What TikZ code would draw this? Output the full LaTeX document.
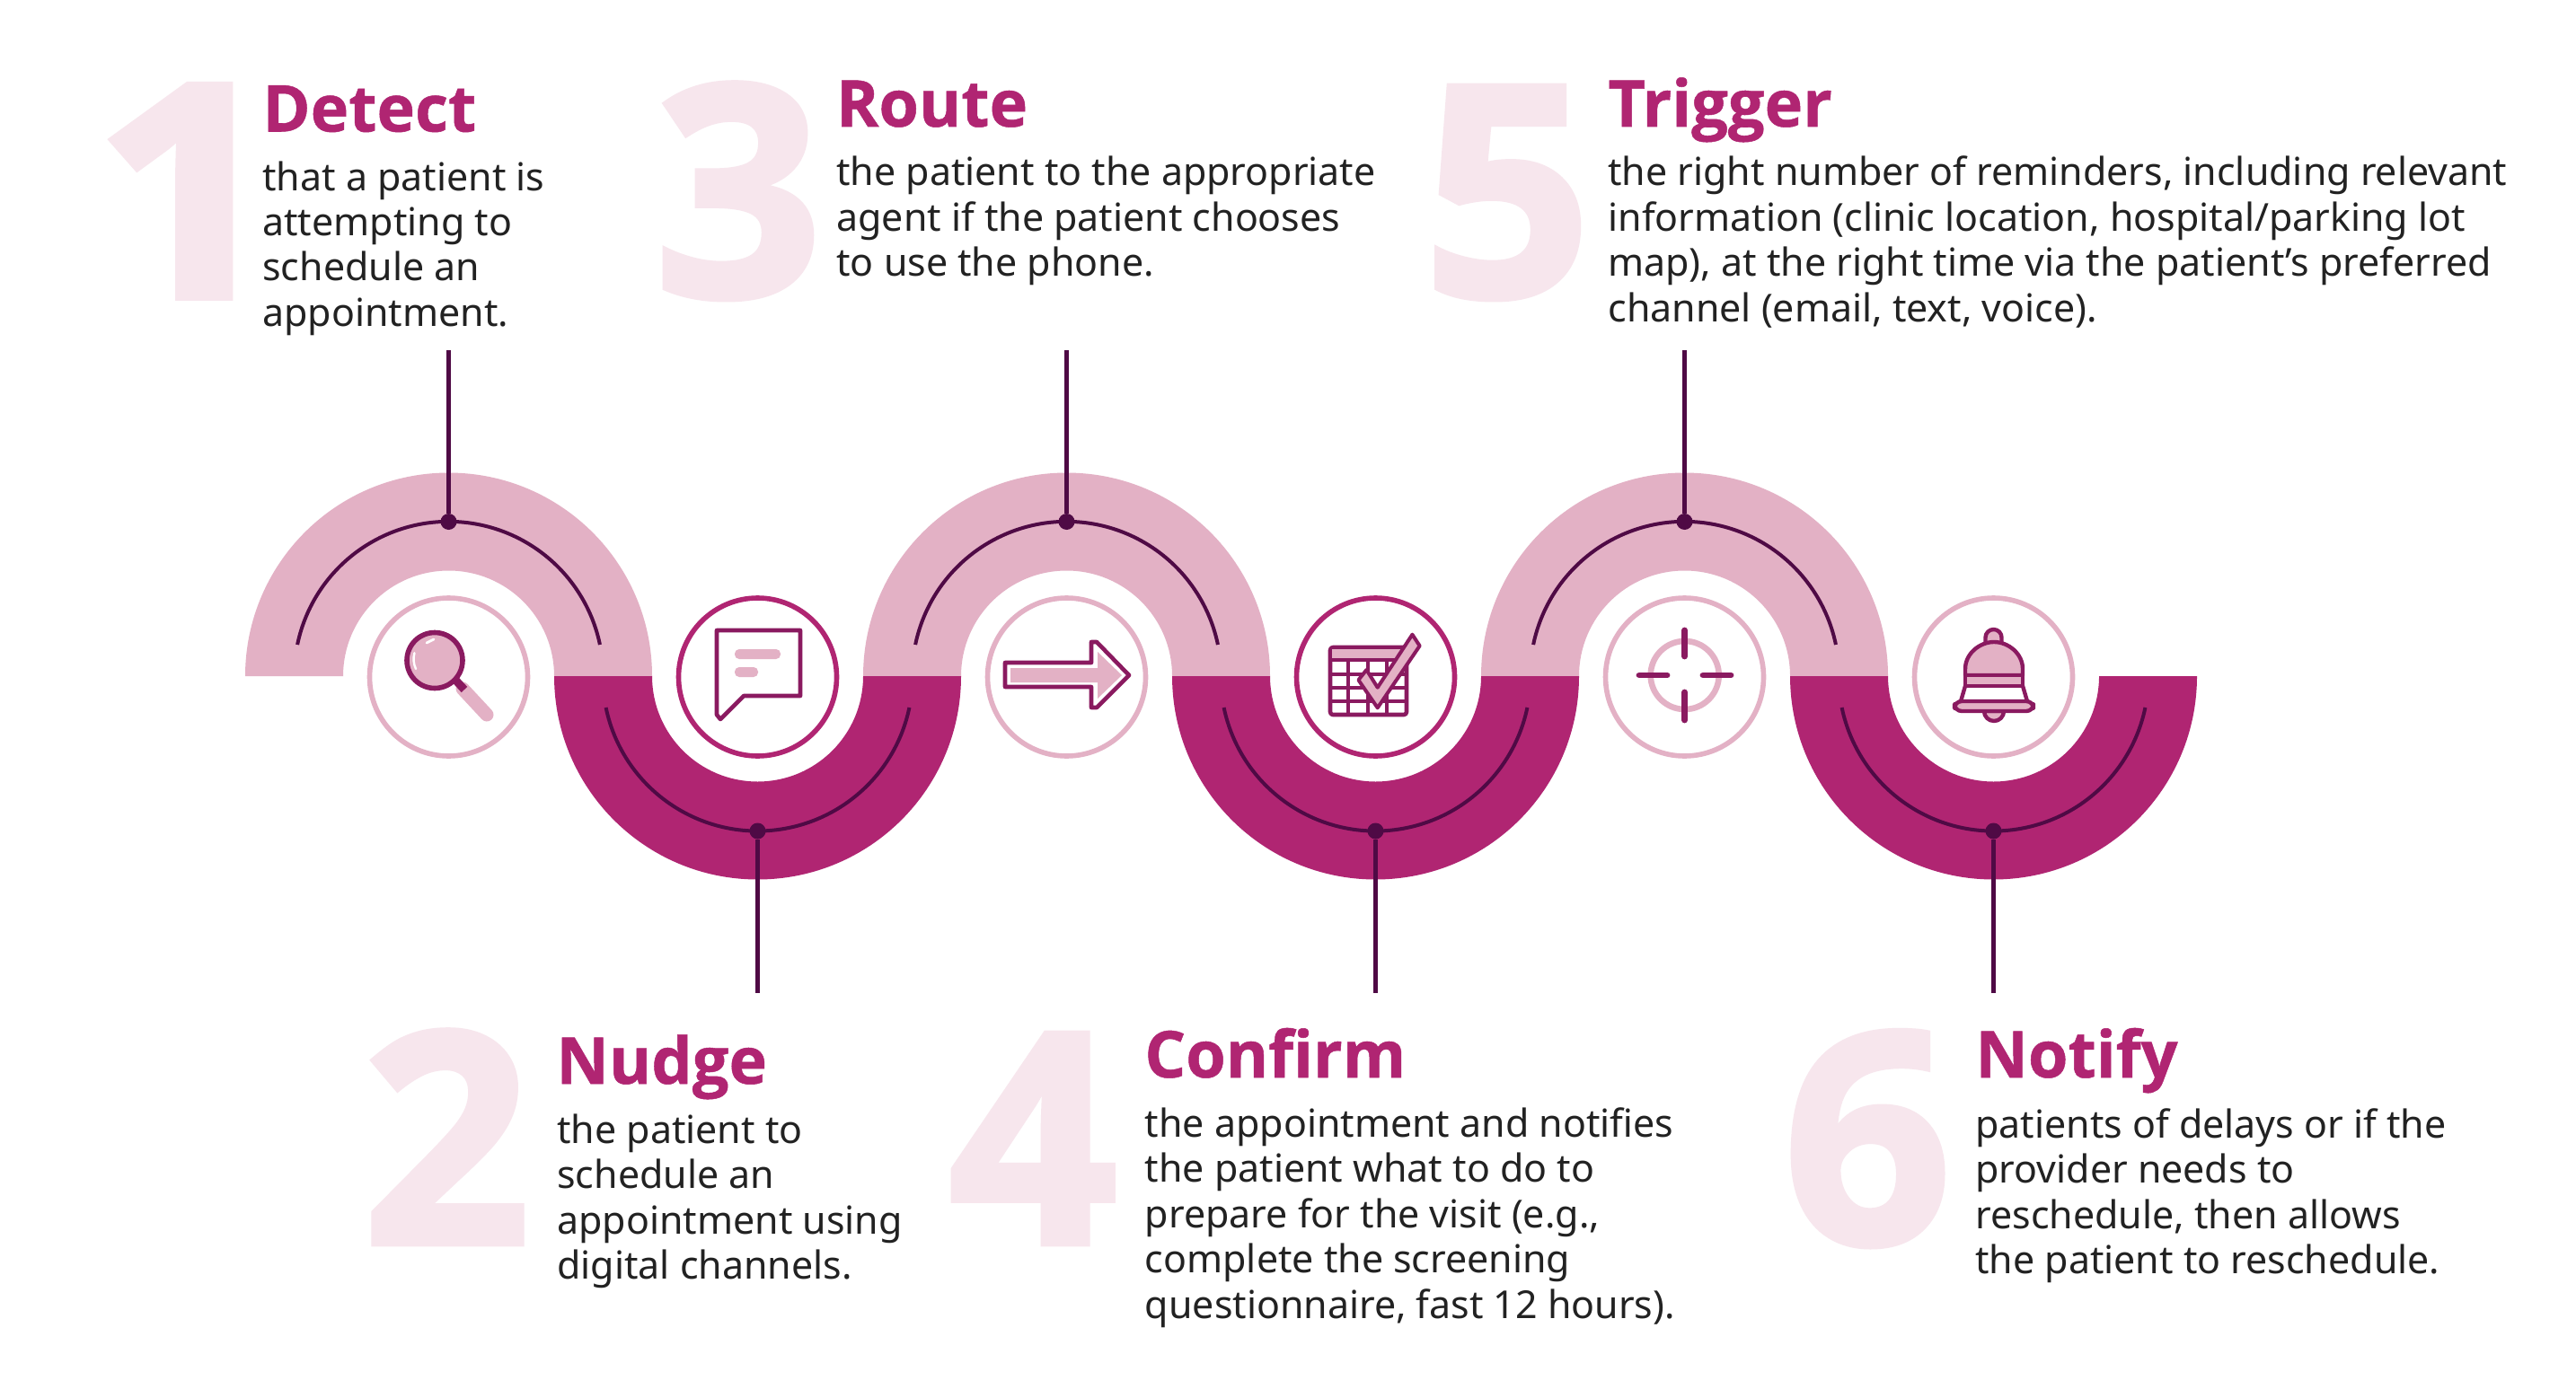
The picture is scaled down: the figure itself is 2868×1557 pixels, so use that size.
\documentclass[tikz,border=0pt]{standalone}
\usepackage{fontspec}
\setmainfont{Noto Sans}
\font\headfont="Open Sans/B:embolden=0.7" at 36pt
\font\numfont="Open Sans/B:embolden=2" at 164pt
\font\numwide="Open Sans/B:embolden=3;extend=1.1" at 164pt
\definecolor{wavelight}{HTML}{E3B1C5}
\definecolor{wavedark}{HTML}{B02572}
\definecolor{lineink}{HTML}{4F0A45}
\definecolor{iconink}{HTML}{8A1A60}
\definecolor{numpale}{HTML}{F7E6ED}
\definecolor{bodyink}{HTML}{222222}
\tikzset{
  bandlight/.style={fill=wavelight,draw=none},
  banddark/.style={fill=wavedark,draw=none},
  inner/.style={draw=lineink,line width=2pt},
  conn/.style={draw=lineink,line width=2.1pt},
  dotn/.style={circle,fill=lineink,minimum size=9pt,inner sep=0pt},
  ringlight/.style={circle,draw=wavelight,line width=2.8pt,minimum size=88pt,inner sep=0pt,fill=white},
  ringdark/.style={circle,draw=wavedark,line width=2.8pt,minimum size=88pt,inner sep=0pt,fill=white},
  ink/.style={draw=iconink,line width=2.3pt,line join=round},
  pink/.style={fill=wavelight,draw=none},
  bignum/.style={anchor=base west,inner sep=0pt,text=numpale,font=\numfont},
  headt/.style={anchor=base west,inner sep=0pt,text=wavedark,font=\headfont},
  bodyt/.style={anchor=base west,inner sep=0pt,text=bodyink,align=left,font=\fontsize{21.45pt}{25.25pt}\selectfont},
}
\begin{document}
\begin{tikzpicture}[x=0.5pt,y=-0.5pt]
\useasboundingbox (0,0) rectangle (2868,1557);
\fill[white] (0,0) rectangle (2868,1557);
% big numerals
\node[bignum,font=\numwide] (n1) at (105,330) {1};
\node[bignum] (n3) at (728,330) {3};
\node[bignum] (n5) at (1584,330) {5};
\node[bignum] (n2) at (403,1385) {2};
\node[bignum] (n4) at (1056,1385) {4};
\node[bignum] (n6) at (1985,1385) {6};
% wave bands
\foreach \c in {499.5,1187.5,1875.5}{
  \fill[bandlight] (\c-226.5,753) arc[start angle=180,end angle=360,radius=226.5] -- (\c+117.5,753) arc[start angle=360,end angle=180,radius=117.5] -- cycle;
  \draw[inner] (\c-168.4,718) arc[start angle=191.7,end angle=348.3,radius=172];
}
\foreach \c in {843.5,1531.5,2219.5}{
  \fill[banddark] (\c-226.5,753) arc[start angle=180,end angle=0,radius=226.5] -- (\c+117.5,753) arc[start angle=0,end angle=180,radius=117.5] -- cycle;
  \draw[inner] (\c-168.9,788) arc[start angle=168.3,end angle=11.7,radius=172.5];
}
% connector dots and stems
\node[dotn] (d1) at (499.5,581) {};
\node[dotn] (d3) at (1187.5,581) {};
\node[dotn] (d5) at (1875.5,581) {};
\node[dotn] (d2) at (843.5,925.5) {};
\node[dotn] (d4) at (1531.5,925.5) {};
\node[dotn] (d6) at (2219.5,925.5) {};
\coordinate (e1) at (499.5,390);
\coordinate (e3) at (1187.5,390);
\coordinate (e5) at (1875.5,390);
\coordinate (e2) at (843.5,1106);
\coordinate (e4) at (1531.5,1106);
\coordinate (e6) at (2219.5,1106);
\foreach \a/\b in {e1/d1,e3/d3,e5/d5,d2/e2,d4/e4,d6/e6}{\draw[conn] (\a) -- (\b);}
% icon rings
\node[ringlight] (r1) at (499.5,754) {};
\node[ringdark]  (r2) at (843.5,754) {};
\node[ringlight] (r3) at (1187.5,754) {};
\node[ringdark]  (r4) at (1531.5,754) {};
\node[ringlight] (r5) at (1875.5,754) {};
\node[ringlight] (r6) at (2219.5,754) {};
% magnifier
\draw[wavelight,line width=7.5pt,line cap=round] (515,767) -- (542,796);
\draw[iconink,line width=4.5pt] (505,755) -- (517,768);
\draw[ink,fill=wavelight,line width=2.8pt] (484,735.5) circle[radius=31];
\draw[white,line width=1.2pt,line cap=round] (463,745) arc[start angle=155,end angle=195,radius=26];
\draw[white,line width=1.4pt,line cap=round] (475,716) -- (483,712);
% chat
\draw[ink,fill=white] (798,702) -- (891,702) -- (891,775) -- (828,775) -- (802,801) -- (798,796) -- cycle;
\fill[pink,rounded corners=2.5pt] (818,723) rectangle (869,734);
\fill[pink,rounded corners=2.5pt] (818,743) rectangle (844,754);
% arrow
\draw[ink,fill=white] (1119,738) -- (1215,738) -- (1215,715) -- (1221,715) -- (1257,752) -- (1221,788) -- (1215,788) -- (1215,765) -- (1119,765) -- cycle;
\fill[pink] (1125,744) -- (1222,744) -- (1222,726) -- (1249,752) -- (1222,778) -- (1222,760) -- (1125,760) -- cycle;
% calendar
\draw[ink,fill=white,rounded corners=1.5pt] (1481,721) rectangle (1566,796);
\fill[pink] (1483,723) rectangle (1564,733);
\draw[iconink,line width=2pt] (1481,735) -- (1566,735) (1481,750.7) -- (1566,750.7) (1481,765.7) -- (1566,765.7) (1481,780.7) -- (1566,780.7)
  (1501,735) -- (1501,796) (1522.6,735) -- (1522.6,796) (1544,735) -- (1544,796);
\draw[ink,fill=wavelight,line width=2pt] (1572.4,706.7) -- (1580.6,719.3) -- (1533.7,788.3) -- (1512.4,757.3) -- (1521.4,746) -- (1533.7,765.7) -- cycle;
% target
\draw[wavelight,line width=3.3pt] (1875.7,752) circle[radius=38];
\draw[iconink,line width=3.4pt,line cap=round] (1875.7,702) -- (1875.7,731) (1875.7,771) -- (1875.7,802) (1825,752) -- (1856,752) (1896,752) -- (1927,752);
% bell
\draw[ink,fill=wavelight,line width=2.2pt] (2210.5,718) -- (2210.5,710) arc[start angle=180,end angle=360,radius=9] -- (2228.5,718);
\fill[white] (2188,764) -- (2182,781) -- (2257,781) -- (2252,764) -- cycle;
\draw[ink,fill=wavelight,line width=2.2pt] (2188,752) -- (2188,745) .. controls (2188,728) and (2204,715) .. (2220,715) .. controls (2236,715) and (2252,728) .. (2252,745) -- (2252,752) -- cycle;
\draw[ink,fill=wavelight,line width=2.2pt] (2188,752) rectangle (2252,764);
\draw[ink,line width=2.2pt] (2188,764) -- (2183,781) (2252,764) -- (2257,781);
\draw[ink,fill=wavelight,line width=2.2pt] (2209,792) arc[start angle=180,end angle=0,radius=11] -- cycle;
\draw[ink,fill=wavelight,rounded corners=4pt,line width=2.2pt] (2176,781) rectangle (2264,792);
% headings
\node[headt] (h1) at (292,146.5) {Detect};
\node[headt] (h3) at (930.5,141) {Route};
\node[headt] (h5) at (1790,141) {Trigger};
\node[headt] (h2) at (619,1207) {Nudge};
\node[headt] (h4) at (1274,1200) {Confirm};
\node[headt] (h6) at (2199,1200) {Notify};
% bodies
\node[bodyt] (b1) at (292,363.5) {that a patient is\\attempting to\\schedule an\\appointment.};
\node[bodyt] (b3) at (931,307.5) {the patient to the appropriate\\agent if the patient chooses\\to use the phone.};
\node[bodyt] (b5) at (1790,358) {the right number of reminders, including relevant\\information (clinic location, hospital/parking lot\\map), at the right time via the patient’s preferred\\channel (email, text, voice).};
\node[bodyt] (b2) at (620,1424.5) {the patient to\\schedule an\\appointment using\\digital channels.};
\node[bodyt] (b4) at (1274.5,1468) {the appointment and notifies\\the patient what to do to\\prepare for the visit (e.g.,\\complete the screening\\questionnaire, fast 12 hours).};
\node[bodyt] (b6) at (2199,1418.5) {patients of delays or if the\\provider needs to\\reschedule, then allows\\the patient to reschedule.};
\end{tikzpicture}
\end{document}
